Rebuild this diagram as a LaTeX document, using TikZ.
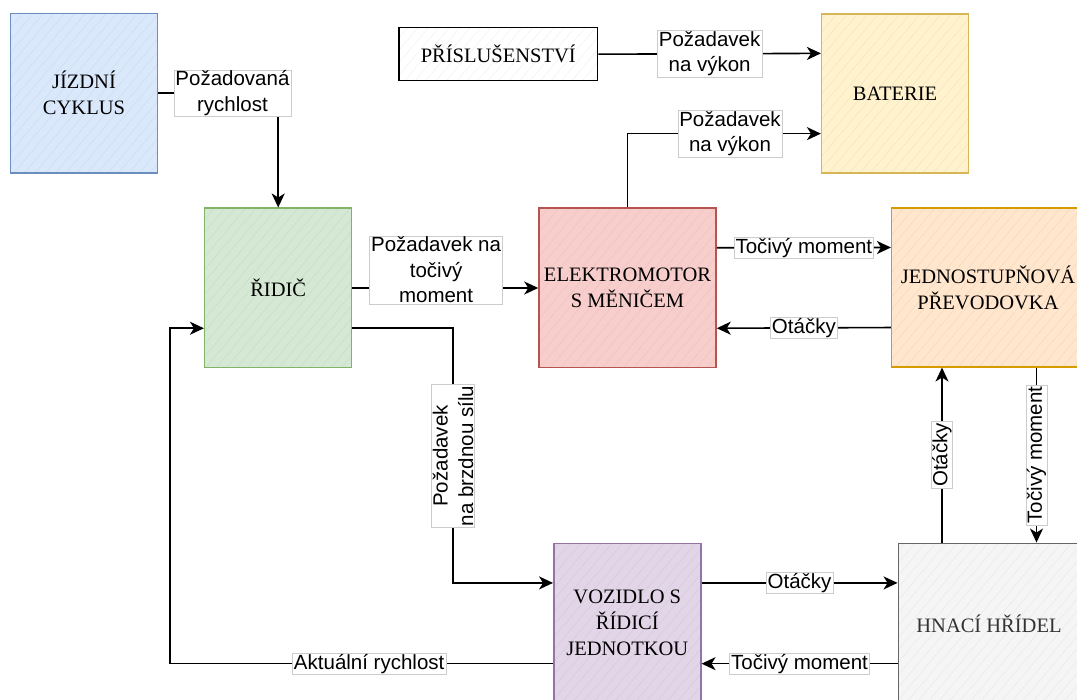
\documentclass[tikz,border=0pt]{standalone}
\usepackage{fontspec}
\setmainfont{Liberation Serif}
\newfontfamily\popisfont{Liberation Sans}
\usepackage{tikz}
\usetikzlibrary{arrows.meta, calc, patterns.meta}

\definecolor{modraF}{HTML}{DAE8FC}
\definecolor{modraD}{HTML}{6C8EBF}
\definecolor{zelenaF}{HTML}{D5E8D4}
\definecolor{zelenaD}{HTML}{82B366}
\definecolor{cervenaF}{HTML}{F8CECC}
\definecolor{cervenaD}{HTML}{B85450}
\definecolor{zlutaF}{HTML}{FFF2CC}
\definecolor{zlutaD}{HTML}{D6B656}
\definecolor{oranzF}{HTML}{FFE6CC}
\definecolor{oranzD}{HTML}{D79B00}
\definecolor{fialF}{HTML}{E1D5E7}
\definecolor{fialD}{HTML}{9673A6}
\definecolor{sedaF}{HTML}{F5F5F5}
\definecolor{sedaD}{HTML}{666666}
\definecolor{sedaT}{HTML}{333333}

\begin{document}
\begin{tikzpicture}[x=1pt, y=-1pt,
    blok/.style 2 args={draw=#2, line width=1.5pt, preaction={fill=#1},
      pattern={Lines[angle=50, distance=8pt, line width=0.5pt]}, pattern color=#1!95!black,
      minimum width=147pt, minimum height=159.5pt, inner sep=0pt, align=center,
      font=\fontsize{20.5}{26}\selectfont},
    popis/.style={draw=black!20, fill=white, line width=0.6pt, inner xsep=1.5pt, inner ysep=1pt,
      align=center, font=\popisfont\fontsize{20.5}{25.5}\selectfont},
    sipka/.style={-{Stealth[length=14pt, width=13pt, inset=4pt]}, line width=1.6pt}]
  \useasboundingbox (0,0) rectangle (1077,700);

  % bloky
  \node[blok={modraF}{modraD}] (cyklus) at (84,93.3) {JÍZDNÍ\\CYKLUS};
  \node[blok={white}{black}, minimum width=198.5pt, minimum height=53pt] (prisl) at (498.3,54.2) {PŘÍSLUŠENSTVÍ};
  \node[blok={zlutaF}{zlutaD}, minimum width=146.6pt, minimum height=159pt] (bat) at (895,93.5) {BATERIE};
  \node[blok={zelenaF}{zelenaD}] (ridic) at (278.2,288) {ŘIDIČ};
  \node[blok={cervenaF}{cervenaD}, minimum width=177pt] (elek) at (627.5,288) {ELEKTROMOTOR\\S MĚNIČEM};
  \node[blok={oranzF}{oranzD}, minimum width=192.6pt, minimum height=158.6pt] (prevod) at (988,287.5) {JEDNOSTUPŇOVÁ\\PŘEVODOVKA};
  \node[blok={fialF}{fialD}, minimum height=160pt] (voz) at (627.3,623.3) {VOZIDLO S\\ŘÍDICÍ\\JEDNOTKOU};
  \node[blok={sedaF}{sedaD}, minimum width=181.4pt, minimum height=160pt, text=sedaT] (hnaci) at (989,623.3) {HNACÍ HŘÍDEL};

  % body na stranach
  \coordinate (bat1) at ($(bat.north west)!0.25!(bat.south west)$);
  \coordinate (bat2) at ($(bat.north west)!0.75!(bat.south west)$);
  \coordinate (ridic2) at ($(ridic.north east)!0.75!(ridic.south east)$);
  \coordinate (ridic3) at ($(ridic.north west)!0.75!(ridic.south west)$);
  \coordinate (elek1) at ($(elek.north east)!0.25!(elek.south east)$);
  \coordinate (elek2) at ($(elek.north east)!0.75!(elek.south east)$);
  \coordinate (prev1) at ($(prevod.north west)!0.25!(prevod.south west)$);
  \coordinate (prev2) at ($(prevod.north west)!0.75!(prevod.south west)$);
  \coordinate (voz1) at ($(voz.north west)!0.25!(voz.south west)$);
  \coordinate (voz2) at ($(voz.north west)!0.75!(voz.south west)$);
  \coordinate (voz3) at ($(voz.north east)!0.25!(voz.south east)$);
  \coordinate (voz4) at ($(voz.north east)!0.75!(voz.south east)$);
  \coordinate (hn1) at ($(hnaci.north west)!0.25!(hnaci.south west)$);
  \coordinate (hn2) at ($(hnaci.north west)!0.75!(hnaci.south west)$);
  \coordinate (otx) at (942,0);
  \coordinate (tmx) at (1036.5,0);
  \coordinate (brzda) at (453,456);
  \coordinate (smycka) at (170,500);

  % spoje
  \draw[sipka] (cyklus.east) -| node[popis, pos=0.31] {Požadovaná\\rychlost} (ridic.north);
  \draw[sipka] (prisl.east) -- node[popis] {Požadavek\\na výkon} (bat1);
  \draw[sipka] (elek.north) |- node[popis, pos=0.765] {Požadavek\\na výkon} (bat2);
  \draw[sipka] (ridic.east) -- node[popis, pos=0.45, yshift=18pt] {Požadavek na\\točivý\\moment} (elek.west);
  \draw[sipka] (ridic2) -| (brzda) node[popis, rotate=90] {Požadavek\\na brzdnou sílu} |- (voz1);
  \draw[sipka] (voz2) -| node[popis, pos=0.24] {Aktuální rychlost} (smycka) |- (ridic3);
  \draw[sipka] (elek1) -- node[popis] {Točivý moment} (prev1);
  \draw[sipka] (prev2) -- node[popis] {Otáčky} (elek2);
  \draw[sipka] (otx |- hnaci.north) -- node[popis, rotate=90] {Otáčky} (otx |- prevod.south);
  \draw[sipka] (tmx |- prevod.south) -- node[popis, rotate=90] {Točivý moment} (tmx |- hnaci.north);
  \draw[sipka] (voz3) -- node[popis] {Otáčky} (hn1);
  \draw[sipka] (hn2) -- node[popis] {Točivý moment} (voz4);
\end{tikzpicture}
\end{document}
